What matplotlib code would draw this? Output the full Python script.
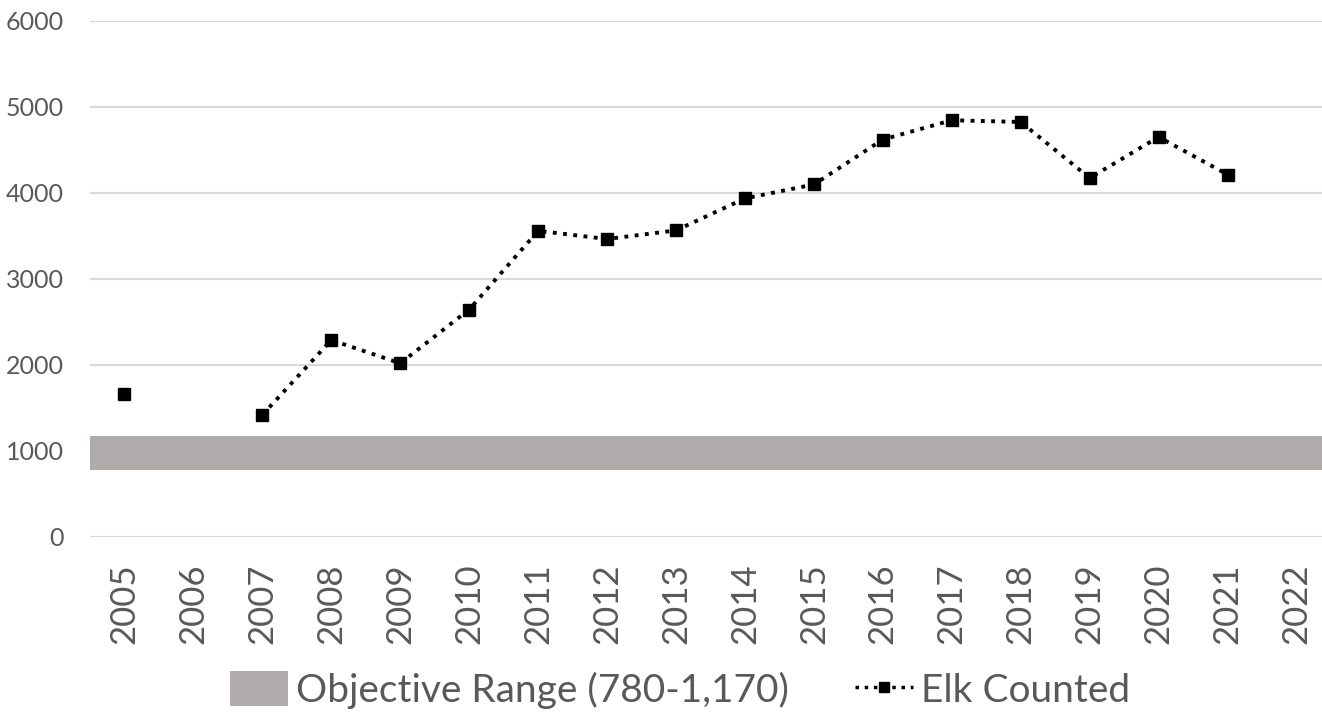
import numpy as np
import matplotlib
matplotlib.use('Agg')
from matplotlib import pyplot as plt
from matplotlib.patches import Patch
from matplotlib.lines import Line2D

plt.rcParams['font.family'] = ['Lato', 'DejaVu Sans']

# données
annees = ['2005', '2006', '2007', '2008', '2009', '2010', '2011', '2012', '2013',
          '2014', '2015', '2016', '2017', '2018', '2019', '2020', '2021', '2022']
elk = [1660, np.nan, 1420, 2290, 2020, 2645, 3560, 3465, 3565,
       3937, 4099, 4622, 4846, 4826, 4174, 4651, 4215, np.nan]
objectif_bas, objectif_haut = 780, 1170
yticks = [0, 1000, 2000, 3000, 4000, 5000, 6000]

gris_txt = '#595959'
gris_band = '#afabab'

fig = plt.figure(figsize=(13.22, 7.14), dpi=100)
ax = fig.add_axes([90 / 1322, 177 / 714, 1241 / 1322, 516 / 714])

x = np.arange(len(annees))
ax.axhspan(objectif_bas, objectif_haut, color=gris_band, zorder=1, lw=0)
ax.plot(x, elk, color='black', ls=':', lw=2.8, marker='s', ms=9,
        markerfacecolor='black', markeredgecolor='black', zorder=3)

ax.set_xlim(-0.5, len(annees) - 0.5)
ax.set_ylim(0, 6000)
ax.set_yticks(yticks)
ax.set_yticklabels([str(v) for v in yticks], fontsize=18, color=gris_txt)
ax.set_xticks(x)
ax.set_xticklabels(annees, rotation=90, fontsize=25, color=gris_txt)
ax.tick_params(axis='x', length=0, pad=19)
ax.tick_params(axis='y', length=0, pad=19)
ax.grid(axis='y', color='#d9d9d9', lw=1.5, zorder=0)
ax.set_axisbelow(True)
for s in ax.spines.values():
    s.set_visible(False)

handles = [Patch(facecolor=gris_band, edgecolor='none'),
           Line2D([0], [0], color='black', ls=':', lw=2.5, marker='s', ms=7)]
leg = fig.legend(handles, ['Objective Range (780-1,170)', 'Elk Counted'],
                 loc='center', bbox_to_anchor=(680 / 1322, 24 / 714), ncol=2,
                 frameon=False, fontsize=28, handlelength=1.5, handleheight=1.0,
                 handletextpad=0.2, columnspacing=1.7, borderpad=0)
for t in leg.get_texts():
    t.set_color(gris_txt)

fig.savefig('out.png', dpi=100)
